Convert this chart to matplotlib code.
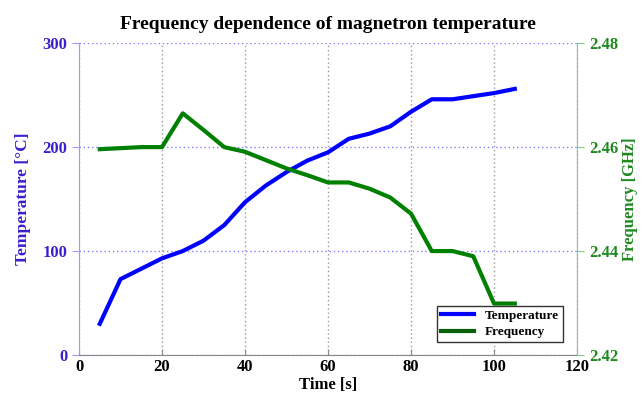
import numpy as np
import matplotlib
matplotlib.use("Agg")
import matplotlib.pyplot as plt

# data
time_s = [5, 10, 15, 20, 25, 30, 35, 40, 45, 50, 55, 60, 65, 70, 75, 80, 85, 90, 95, 100, 105]
temperature = [30, 73, 83, 93, 100, 110, 125, 147, 163, 176, 187, 195, 208, 213, 220, 234, 246, 246, 249, 252, 256]
frequency = [2.4596, 2.4598, 2.46, 2.46, 2.4665, 2.4633, 2.46, 2.4591, 2.4575, 2.4559, 2.4546, 2.4532,
             2.4532, 2.452, 2.4503, 2.4472, 2.44, 2.44, 2.439, 2.4299, 2.4299]

temp_ticks = [0, 100, 200, 300]
freq_ticks = [2.42, 2.44, 2.46, 2.48]
time_ticks = [0, 20, 40, 60, 80, 100, 120]

left_col = "#3a1fcf"
right_col = "#1f8a1f"

plt.rcParams["font.family"] = ["Liberation Serif", "DejaVu Serif"]
plt.rcParams["font.weight"] = "bold"

fig = plt.figure(figsize=(6.44, 3.96), dpi=100)
ax = fig.add_axes([0.1227, 0.1035, 0.7733, 0.7875])
ax2 = ax.twinx()

l1, = ax.plot(time_s, temperature, color="#0000ff", lw=3, solid_joinstyle="round")
l2, = ax2.plot(time_s, frequency, color="#008000", lw=3, solid_joinstyle="round")

ax.set_xlim(0, 120)
ax.set_ylim(0, 300)
ax2.set_ylim(2.42, 2.48)
ax.set_xticks(time_ticks)
ax.set_yticks(temp_ticks)
ax2.set_yticks(freq_ticks)
ax2.set_yticklabels(["2.42", "2.44", "2.46", "2.48"])

# grid: horizontal dotted blue, vertical dotted grey
ax.yaxis.grid(True, linestyle=(0, (1, 2)), color="#8080ff", lw=1)
ax.xaxis.grid(True, linestyle=(0, (1, 2)), color="#999999", lw=1)
ax.set_axisbelow(True)

ax.spines["top"].set_visible(False)
ax2.spines["top"].set_visible(False)
ax.spines["left"].set_color("#9a9aff")
ax2.spines["left"].set_visible(False)
ax2.spines["right"].set_color("#80cc80")
ax.spines["right"].set_visible(False)
ax.spines["bottom"].set_color("#888888")
ax2.spines["bottom"].set_visible(False)

ax.tick_params(axis="x", direction="in", length=4, color="#888888", labelsize=12, pad=3)
ax.tick_params(axis="y", direction="out", length=5, color="#9a9aff", labelcolor=left_col, labelsize=12)
ax2.tick_params(axis="y", direction="out", length=5, color="#80cc80", labelcolor=right_col, labelsize=12)
for t in ax.get_xticklabels() + ax.get_yticklabels() + ax2.get_yticklabels():
    t.set_fontweight("bold")

ax.set_xlabel("Time [s]", fontsize=12, fontweight="bold", labelpad=1)
ax.set_ylabel("Temperature [°C]", fontsize=12.5, color=left_col, fontweight="bold", labelpad=8)
ax2.set_ylabel("Frequency [GHz]", fontsize=12, color=right_col, fontweight="bold", labelpad=3)
ax.set_title("Frequency dependence of magnetron temperature", fontsize=14, fontweight="bold", pad=10)

leg = ax2.legend([l1, l2], ["Temperature", "Frequency"], loc="lower right",
                 bbox_to_anchor=(0.985, 0.02), fontsize=9.5, fancybox=False,
                 framealpha=1, edgecolor="#333333", handlelength=2.5, borderpad=0.3,
                 labelspacing=0.3)
leg.legend_handles[1].set_color("#0a5f0a")
leg.get_frame().set_linewidth(1)

fig.savefig("out.png", dpi=100)
